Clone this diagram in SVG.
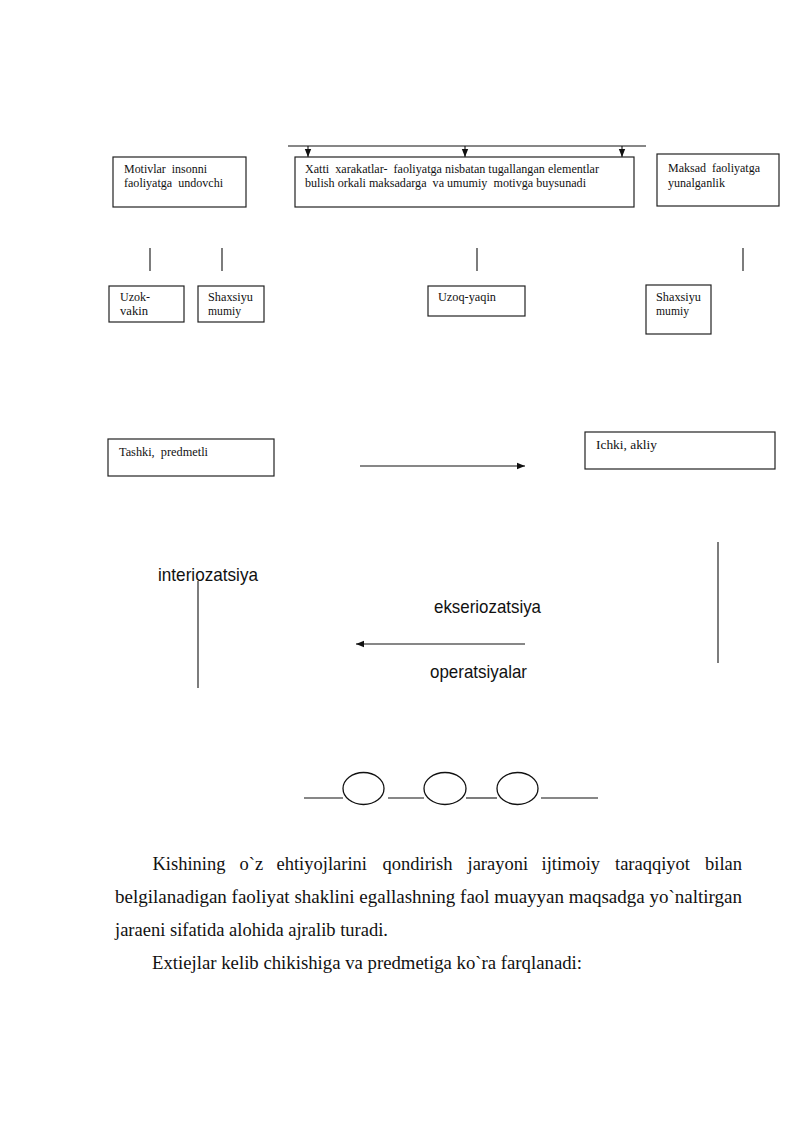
<svg xmlns="http://www.w3.org/2000/svg" width="800" height="1131" viewBox="0 0 800 1131">
<style>
.box{fill:#fff;stroke:#222;stroke-width:1.2}
.bt{font-family:"Liberation Serif",serif;font-size:12px;fill:#111;white-space:pre}
.ln{stroke:#111;stroke-width:1.1;fill:none}
.lab{font-family:"Liberation Sans Narrow","Liberation Sans",sans-serif;font-size:19px;fill:#111}
.para{font-family:"Liberation Serif",serif;font-size:18.5px;fill:#111}
.ov{fill:none;stroke:#111;stroke-width:1.3}
</style>
<defs>
<marker id="ah" viewBox="0 0 10 10" refX="10" refY="5" markerWidth="8" markerHeight="8" markerUnits="userSpaceOnUse" orient="auto">
<path d="M0,1 L10,5 L0,9 z" fill="#111"/>
</marker>
</defs>
<rect width="800" height="1131" fill="#fff"/>
<g id="connectors">
<line class="ln" x1="288" y1="146" x2="646" y2="146"/>
<line class="ln" x1="308" y1="146" x2="308" y2="157" marker-end="url(#ah)"/>
<line class="ln" x1="465" y1="146" x2="465" y2="157" marker-end="url(#ah)"/>
<line class="ln" x1="622" y1="146" x2="622" y2="157" marker-end="url(#ah)"/>
<line class="ln" x1="150" y1="248" x2="150" y2="271"/>
<line class="ln" x1="222" y1="248" x2="222" y2="271"/>
<line class="ln" x1="477" y1="248" x2="477" y2="271"/>
<line class="ln" x1="743" y1="248" x2="743" y2="271"/>
<line class="ln" x1="360" y1="466" x2="525" y2="466" marker-end="url(#ah)"/>
<line class="ln" x1="718" y1="542" x2="718" y2="663"/>
<line class="ln" x1="198" y1="581" x2="198" y2="688"/>
<line class="ln" x1="525" y1="644" x2="356" y2="644" marker-end="url(#ah)"/>
</g>
<g id="motivlar">
<rect class="box" x="113" y="157" width="133" height="50"/>
<text class="bt" x="124" y="173" textLength="83" lengthAdjust="spacingAndGlyphs" xml:space="preserve">Motivlar  insonni</text>
<text class="bt" x="124" y="187" textLength="99" lengthAdjust="spacingAndGlyphs" xml:space="preserve">faoliyatga  undovchi</text>
</g>
<g id="xatti">
<rect class="box" x="295" y="157" width="339" height="50"/>
<text class="bt" x="305" y="173" textLength="294" lengthAdjust="spacingAndGlyphs" xml:space="preserve">Xatti  xarakatlar-  faoliyatga nisbatan tugallangan elementlar</text>
<text class="bt" x="305" y="187" textLength="281" lengthAdjust="spacingAndGlyphs" xml:space="preserve">bulish orkali maksadarga  va umumiy  motivga buysunadi</text>
</g>
<g id="maksad">
<rect class="box" x="657" y="154" width="122" height="52"/>
<text class="bt" x="668" y="172" textLength="92" lengthAdjust="spacingAndGlyphs" xml:space="preserve">Maksad  faoliyatga</text>
<text class="bt" x="668" y="187" textLength="57" lengthAdjust="spacingAndGlyphs">yunalganlik</text>
</g>
<g id="uzok">
<rect class="box" x="109" y="286" width="75" height="36"/>
<text class="bt" x="120" y="301" textLength="30" lengthAdjust="spacingAndGlyphs">Uzok-</text>
<text class="bt" x="120" y="315" textLength="28" lengthAdjust="spacingAndGlyphs">vakin</text>
</g>
<g id="shaxsiyu1">
<rect class="box" x="198" y="286" width="66" height="36"/>
<text class="bt" x="208" y="301" textLength="45" lengthAdjust="spacingAndGlyphs">Shaxsiyu</text>
<text class="bt" x="208" y="315" textLength="33" lengthAdjust="spacingAndGlyphs">mumiy</text>
</g>
<g id="uzoqyaqin">
<rect class="box" x="428" y="286" width="97" height="30"/>
<text class="bt" x="438" y="301" textLength="58" lengthAdjust="spacingAndGlyphs">Uzoq-yaqin</text>
</g>
<g id="shaxsiyu2">
<rect class="box" x="646" y="285" width="65" height="49"/>
<text class="bt" x="656" y="301" textLength="45" lengthAdjust="spacingAndGlyphs">Shaxsiyu</text>
<text class="bt" x="656" y="315" textLength="33" lengthAdjust="spacingAndGlyphs">mumiy</text>
</g>
<g id="tashki">
<rect class="box" x="108" y="439" width="166" height="37"/>
<text class="bt" x="119" y="456" textLength="89" lengthAdjust="spacingAndGlyphs" xml:space="preserve">Tashki,  predmetli</text>
</g>
<g id="ichki">
<rect class="box" x="585" y="432" width="190" height="37"/>
<text class="bt" x="596" y="449" textLength="61" lengthAdjust="spacingAndGlyphs">Ichki, akliy</text>
</g>
<g id="labels">
<text class="lab" x="158" y="581" textLength="100" lengthAdjust="spacingAndGlyphs">interiozatsiya</text>
<text class="lab" x="434" y="613" textLength="107" lengthAdjust="spacingAndGlyphs">ekseriozatsiya</text>
<text class="lab" x="430" y="678" textLength="97" lengthAdjust="spacingAndGlyphs">operatsiyalar</text>
</g>
<g id="chain">
<line class="ln" x1="304" y1="798" x2="343" y2="798"/>
<ellipse class="ov" cx="363.5" cy="788.5" rx="20.5" ry="16"/>
<line class="ln" x1="388" y1="798" x2="424" y2="798"/>
<ellipse class="ov" cx="445" cy="788.5" rx="21" ry="16"/>
<line class="ln" x1="466" y1="798" x2="497" y2="798"/>
<ellipse class="ov" cx="517.5" cy="788.5" rx="20.5" ry="16"/>
<line class="ln" x1="541" y1="798" x2="598" y2="798"/>
</g>
<g id="paragraph">
<text class="para" y="870"><tspan x="152.5">Kishining</tspan><tspan x="239.5">o`z</tspan><tspan x="276.5">ehtiyojlarini</tspan><tspan x="382.5">qondirish</tspan><tspan x="467.5">jarayoni</tspan><tspan x="541.5">ijtimoiy</tspan><tspan x="615">taraqqiyot</tspan><tspan x="705">bilan</tspan></text>
<text class="para" x="115" y="903" textLength="627" lengthAdjust="spacingAndGlyphs">belgilanadigan faoliyat shaklini egallashning faol muayyan maqsadga yo`naltirgan</text>
<text class="para" x="115" y="936" textLength="273" lengthAdjust="spacingAndGlyphs">jaraeni sifatida alohida ajralib turadi.</text>
<text class="para" x="152" y="969" textLength="430" lengthAdjust="spacingAndGlyphs">Extiejlar kelib chikishiga va predmetiga ko`ra farqlanadi:</text>
</g>
</svg>
